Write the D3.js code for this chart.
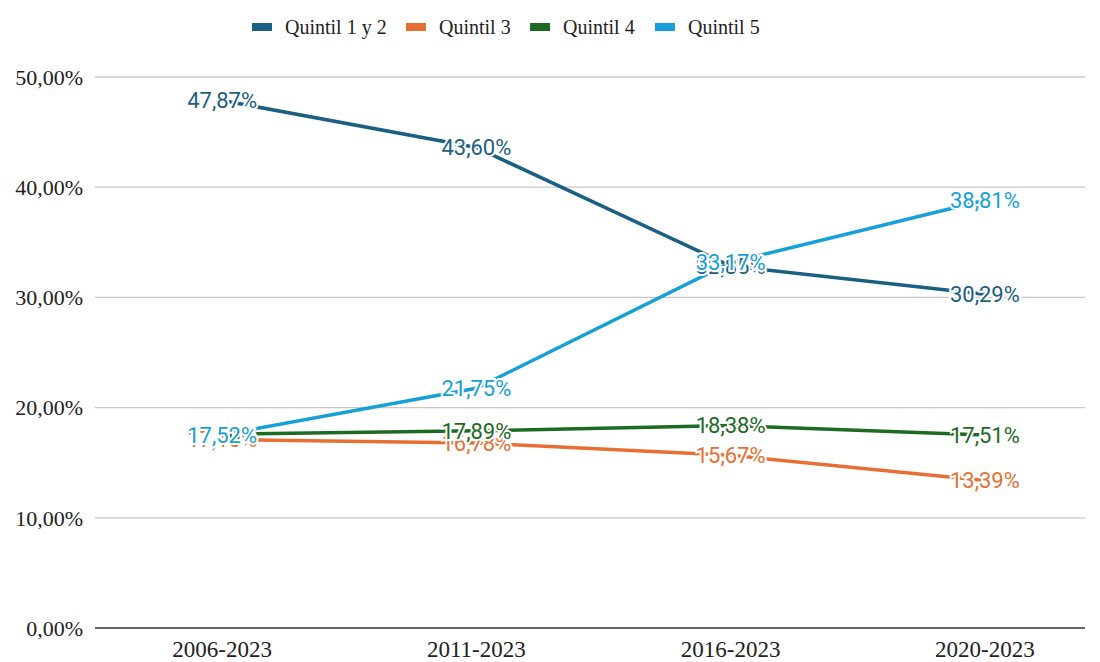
<!DOCTYPE html>
<html>
<head>
<meta charset="utf-8">
<script src="https://cdn.jsdelivr.net/npm/d3@7"></script>
<style>
body { margin: 0; background: #fff; }
.serif { font-family: "Liberation Serif", "Times New Roman", serif; }
.lbl { font-family: Roboto, "Liberation Sans", sans-serif; }
</style>
</head>
<body>
<script>
// periods on the x axis
var periods = ["2006-2023", "2011-2023", "2016-2023", "2020-2023"];
var seriesNames = ["Quintil 1 y 2", "Quintil 3", "Quintil 4", "Quintil 5"];
var q12 = [47.87, 43.60, 32.85, 30.29];
var q3 = [17.10, 16.78, 15.67, 13.39];
var q4 = [17.60, 17.89, 18.38, 17.51];
var q5 = [17.52, 21.75, 33.17, 38.81];
var colors = ["#1b5f83", "#e86f34", "#1d6a24", "#15a0d7"];
var yTicks = [0, 10, 20, 30, 40, 50];

var width = 1100, height = 662;
var plotLeft = 95, plotRight = 1085, plotTop = 77, plotBottom = 628;

var series = [q12, q3, q4, q5].map(function(v, i) {
	return { name: seriesNames[i], values: v, color: colors[i] };
});

var svg = d3.select("body").append("svg")
	.attr("width", width)
	.attr("height", height);

var x = d3.scalePoint().domain(periods).range([plotLeft, 1112]).padding(0.5);
var y = d3.scaleLinear().domain([0, 50]).range([plotBottom, plotTop]);

var fmt = function(d) { return d.toFixed(2).replace(".", ",") + "%"; };

// grid
svg.selectAll("line.grid").data(yTicks.slice(1)).enter().append("line")
	.attr("class", "grid")
	.attr("x1", plotLeft).attr("x2", plotRight)
	.attr("y1", function(d) { return y(d); })
	.attr("y2", function(d) { return y(d); })
	.attr("stroke", "#c8c8c8")
	.attr("stroke-width", 1.3);

svg.append("line")
	.attr("x1", plotLeft).attr("x2", plotRight)
	.attr("y1", y(0)).attr("y2", y(0))
	.attr("stroke", "#333")
	.attr("stroke-width", 1.5);

// y labels
svg.selectAll("text.ytick").data(yTicks).enter().append("text")
	.attr("class", "ytick serif")
	.attr("x", 83)
	.attr("y", function(d) { return y(d); })
	.attr("dy", "0.35em")
	.attr("text-anchor", "end")
	.attr("font-size", "22px")
	.attr("fill", "#222")
	.text(fmt);

// x labels
svg.selectAll("text.xtick").data(periods).enter().append("text")
	.attr("class", "xtick serif")
	.attr("x", function(d) { return x(d); })
	.attr("y", 657)
	.attr("text-anchor", "middle")
	.attr("font-size", "23px")
	.attr("fill", "#222")
	.text(function(d) { return d; });

var line = d3.line()
	.x(function(d, i) { return x(periods[i]); })
	.y(function(d) { return y(d); });

svg.selectAll("path.series").data(series).enter().append("path")
	.attr("class", "series")
	.attr("d", function(s) { return line(s.values); })
	.attr("fill", "none")
	.attr("stroke", function(s) { return s.color; })
	.attr("stroke-width", 3.5);

// data labels, white halo
series.forEach(function(s) {
	svg.selectAll(null).data(s.values).enter().append("text")
		.attr("class", "lbl")
		.attr("x", function(d, i) { return x(periods[i]); })
		.attr("y", function(d) { return y(d); })
		.attr("dy", "0.35em")
		.attr("text-anchor", "middle")
		.attr("font-size", "22px")
		.attr("fill", s.color)
		.attr("stroke", "#fff")
		.attr("stroke-width", 4)
		.attr("paint-order", "stroke")
		.text(fmt);
});

// legend
var legendX = [252, 406, 530, 655];
var lg = svg.selectAll("g.legend").data(series).enter().append("g")
	.attr("class", "legend")
	.attr("transform", function(d, i) { return "translate(" + legendX[i] + ",0)"; });
lg.append("rect")
	.attr("x", 0).attr("y", 23)
	.attr("width", 20).attr("height", 8)
	.attr("fill", function(d) { return d.color; });
lg.append("text")
	.attr("class", "serif")
	.attr("x", 33).attr("y", 34)
	.attr("font-size", "20px")
	.attr("fill", "#222")
	.text(function(d) { return d.name; });
</script>
</body>
</html>
